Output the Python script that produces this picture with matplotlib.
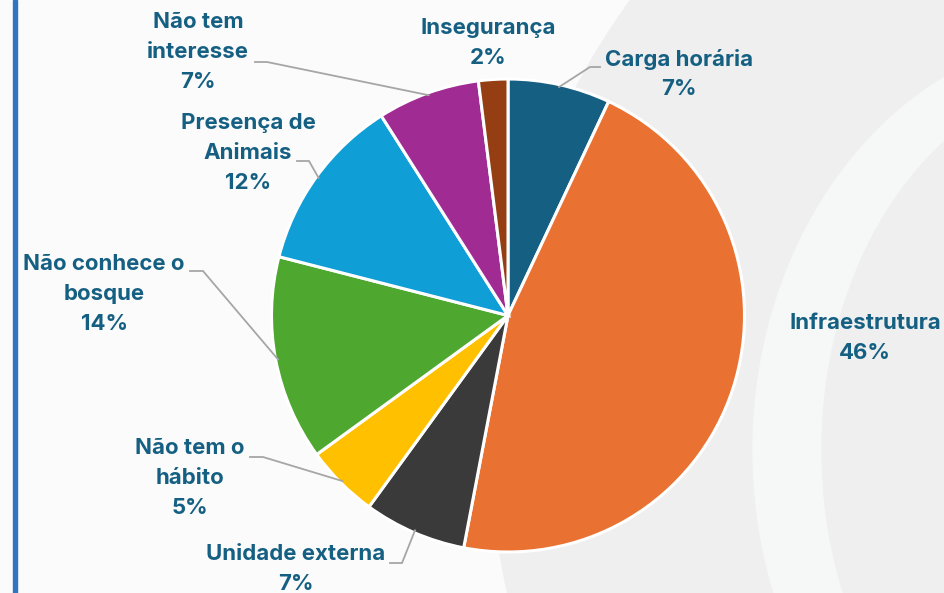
import numpy as np
import matplotlib
matplotlib.use("Agg")
import matplotlib.pyplot as plt
from matplotlib.patches import Circle, Ellipse, Rectangle

# ---- data ----
categories = ["Carga horária", "Infraestrutura", "Unidade externa", "Não tem o\nhábito",
              "Não conhece o\nbosque", "Presença de\nAnimais", "Não tem\ninteresse", "Insegurança"]
values = [7, 46, 7, 5, 14, 12, 7, 2]
colors = ["#156082", "#E97132", "#3A3A3A", "#FFC000", "#4EA72E", "#0F9ED5", "#A02B93", "#953E14"]

# ---- layout (pixel coordinates, y downward) ----
W, H = 944, 593
label_pos = [(679, 74), (865, 338), (296, 569), (190, 478), (104, 294), (248, 153), (198, 52), (488, 43)]
leaders = [((590, 67), (600, 67)), None, ((402, 563), (390, 563)), ((263, 457), (250, 457)),
           ((203, 271), (190, 271)), ((309, 161), (297, 161)), ((267, 62), (255, 62)), None]
center = (508, 315.5)
radius = 236.5

fig = plt.figure(figsize=(W / 100, H / 100), dpi=100)

# background
bg = fig.add_axes([0, 0, 1, 1])
bg.set_xlim(0, W)
bg.set_ylim(H, 0)
bg.axis("off")
bg.add_patch(Rectangle((0, 0), W, H, color="#FBFBFB", zorder=0))
bg.add_patch(Circle((1227, 433), 737, color="#EFEFEF", zorder=1))
bg.add_patch(Ellipse((1100, 450), 2 * 347, 2 * 417, color="#F6F7F7", zorder=2))
bg.add_patch(Ellipse((1100, 450), 2 * 278, 2 * 372, color="#EFEFEF", zorder=3))
bg.add_patch(Rectangle((12.5, 0), 4.5, H, color="#2F75BF", zorder=4))

# pie
ax = fig.add_axes([0, 0, 1, 1])
ax.patch.set_alpha(0)
ax.set_xlim(0, W)
ax.set_ylim(0, H)
ax.axis("off")
cx, cy = center[0], H - center[1]
wedges, _ = ax.pie(values, colors=colors, startangle=90, counterclock=False,
                   center=(cx, cy), radius=radius,
                   wedgeprops=dict(edgecolor="white", linewidth=2.2))
ax.set_xlim(0, W)
ax.set_ylim(0, H)

label_color = "#156082"
for w, name, v, pos, ld in zip(wedges, categories, values, label_pos, leaders):
    ax.text(pos[0], H - pos[1], f"{name}\n{v}%", ha="center", va="center",
            fontsize=16, fontweight="bold", family=["Inter", "DejaVu Sans"],
            color=label_color, linespacing=1.6, zorder=5)
    if ld is not None:
        ang = np.deg2rad((w.theta1 + w.theta2) / 2)
        sx = cx + radius * 0.99 * np.cos(ang)
        sy = cy + radius * 0.99 * np.sin(ang)
        (ex, ey), (tx, ty) = ld
        ax.plot([sx, ex, tx], [sy, H - ey, H - ty], color="#A6A6A6", lw=1.3,
                solid_joinstyle="miter", zorder=4)

fig.savefig("out.png", dpi=100)
